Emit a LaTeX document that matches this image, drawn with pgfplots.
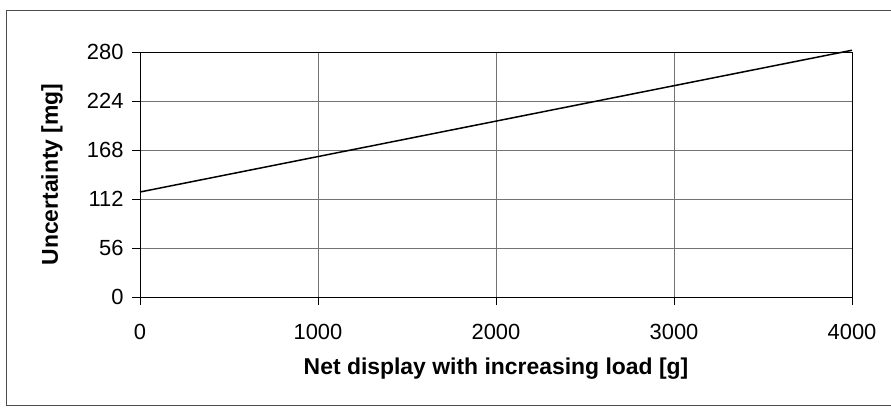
\documentclass[border=0pt]{standalone}
\usepackage{fontspec}
\setmainfont{Liberation Sans}
\usepackage{pgfplots}
\pgfplotsset{compat=1.18}
\begin{document}
\begin{tikzpicture}[x=1bp,y=1bp]
\useasboundingbox (-140,-113) rectangle (751,297);
\begin{axis}[
  at={(0,0)}, anchor=south west,
  scale only axis, width=712bp, height=245bp,
  xmin=0, xmax=4000, ymin=0, ymax=280,
  xtick={0,1000,2000,3000,4000},
  ytick={0,56,112,168,224,280},
  xtick pos=bottom, ytick pos=left,
  tick align=outside, major tick length=8bp,
  tick style={black, line width=0.7pt},
  grid=major,
  grid style={black!55, line width=0.7pt},
  axis line style={black, line width=0.9pt},
  scaled ticks=false,
  /pgf/number format/assume math mode=true,
  /pgf/number format/1000 sep={},
  ticklabel style={font=\fontsize{22}{24}\selectfont},
  xticklabel style={anchor=base, yshift=-34bp},
  yticklabel style={anchor=east, xshift=-5bp},
  xlabel={Net display with increasing load [g]},
  ylabel={Uncertainty [mg]},
  label style={font=\fontsize{23}{25}\selectfont\bfseries},
  xlabel style={at={(axis description cs:0.5,-0.318)}, anchor=base},
  ylabel style={at={(axis description cs:-0.1236,0.5)}, anchor=center},
  clip=false,
]
\addplot[black, line width=1.5pt] coordinates {(0,120) (4000,282)};
\end{axis}
\draw[black!70, line width=1pt] (751,287) -- (-133,287) -- (-133,-108) -- (751,-108);
\end{tikzpicture}
\end{document}
